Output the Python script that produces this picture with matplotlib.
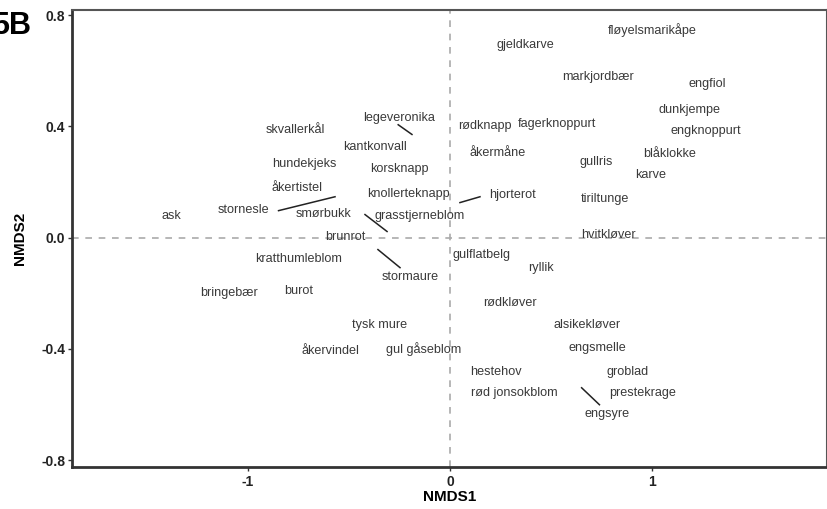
import numpy as np
import matplotlib
matplotlib.use('Agg')
import matplotlib.pyplot as plt

# NMDS species scores (label positions)
species = ['fløyelsmarikåpe', 'gjeldkarve', 'markjordbær', 'engfiol', 'dunkjempe',
           'engknoppurt', 'fagerknoppurt', 'rødknapp', 'legeveronika', 'skvallerkål',
           'kantkonvall', 'åkermåne', 'blåklokke', 'gullris', 'hundekjeks',
           'korsknapp', 'karve', 'åkertistel', 'knollerteknapp', 'hjorterot',
           'tiriltunge', 'ask', 'stornesle', 'smørbukk', 'grasstjerneblom',
           'brunrot', 'hvitkløver', 'kratthumleblom', 'gulflatbelg', 'ryllik',
           'stormaure', 'bringebær', 'burot', 'rødkløver', 'tysk mure',
           'alsikekløver', 'åkervindel', 'gul gåseblom', 'engsmelle', 'hestehov',
           'groblad', 'rød jonsokblom', 'prestekrage', 'engsyre']
nmds1 = [0.998, 0.370, 0.731, 1.269, 1.185, 1.264, 0.528, 0.173, -0.252, -0.765,
         -0.370, 0.237, 1.086, 0.721, -0.721, -0.252, 0.993, -0.756, -0.207, 0.311,
         0.765, -1.378, -1.022, -0.627, -0.148, -0.519, 0.780, -0.746, 0.153, 0.449,
         -0.198, -1.091, -0.746, 0.296, -0.346, 0.677, -0.593, -0.128, 0.726, 0.227,
         0.879, 0.316, 0.953, 0.775]
nmds2 = [0.748, 0.694, 0.579, 0.554, 0.460, 0.385, 0.410, 0.403, 0.432, 0.388,
         0.327, 0.306, 0.302, 0.273, 0.263, 0.248, 0.227, 0.180, 0.158, 0.155,
         0.140, 0.076, 0.101, 0.086, 0.076, 0.004, 0.011, -0.076, -0.061, -0.108,
         -0.140, -0.198, -0.191, -0.234, -0.313, -0.313, -0.406, -0.399, -0.396, -0.482,
         -0.482, -0.558, -0.558, -0.633]

# repel segments: (x0, y0) -> (x1, y1)
seg_x0 = [-0.256, -0.847, -0.420, 0.049, -0.356, 0.650]
seg_y0 = [0.406, 0.097, 0.083, 0.126, -0.043, -0.540]
seg_x1 = [-0.188, -0.568, -0.311, 0.148, -0.247, 0.738]
seg_y1 = [0.371, 0.147, 0.022, 0.147, -0.108, -0.601]


def main():
    fig = plt.figure(figsize=(8.28, 5.09), dpi=100)
    ax = fig.add_axes([0.087, 0.0825, 0.9118, 0.8975])

    ax.axhline(0, color='#aaaaaa', ls=(0, (4, 4)), lw=1.2, zorder=1)
    ax.axvline(0, color='#aaaaaa', ls=(0, (4, 4)), lw=1.2, zorder=1)

    for i in range(len(seg_x0)):
        ax.plot([seg_x0[i], seg_x1[i]], [seg_y0[i], seg_y1[i]], color='#222222', lw=1.1, zorder=2)

    for name, x, y in zip(species, nmds1, nmds2):
        ax.text(x, y, name, ha='center', va='center', fontsize=9.1,
                family='Liberation Sans', color='#3a3a3a', zorder=3)

    ax.set_xlim(-1.867, 1.862)
    ax.set_ylim(-0.825, 0.818)
    ax.set_xticks([-1, 0, 1])
    ax.set_xticklabels(['-1', '0', '1'])
    ax.set_yticks([-0.8, -0.4, 0.0, 0.4, 0.8])
    ax.set_yticklabels(['-0.8', '-0.4', '0.0', '0.4', '0.8'])
    for lab in ax.get_xticklabels() + ax.get_yticklabels():
        lab.set_fontweight('bold')
        lab.set_fontsize(10)
        lab.set_family('Liberation Sans')
        lab.set_color('#222222')
    ax.tick_params(axis='x', length=3, width=1, color='#333333', pad=2.5)
    ax.tick_params(axis='y', length=3, width=1, color='#333333', pad=2)

    for s in ['left', 'bottom']:
        ax.spines[s].set_linewidth(2.0)
        ax.spines[s].set_color('#333333')
    for s in ['top', 'right']:
        ax.spines[s].set_linewidth(1.5)
        ax.spines[s].set_color('#555555')

    ax.set_xlabel('NMDS1', fontsize=11, fontweight='bold', family='Liberation Sans', labelpad=1)
    ax.set_ylabel('NMDS2', fontsize=11, fontweight='bold', family='Liberation Sans', labelpad=10)

    fig.text(31 / 828, 1 - 26 / 509, '5B', ha='right', va='center', fontsize=22,
             fontweight='bold', family='Liberation Sans')

    fig.savefig('out.png', dpi=100)
    return


if __name__ == "__main__":
    main()
